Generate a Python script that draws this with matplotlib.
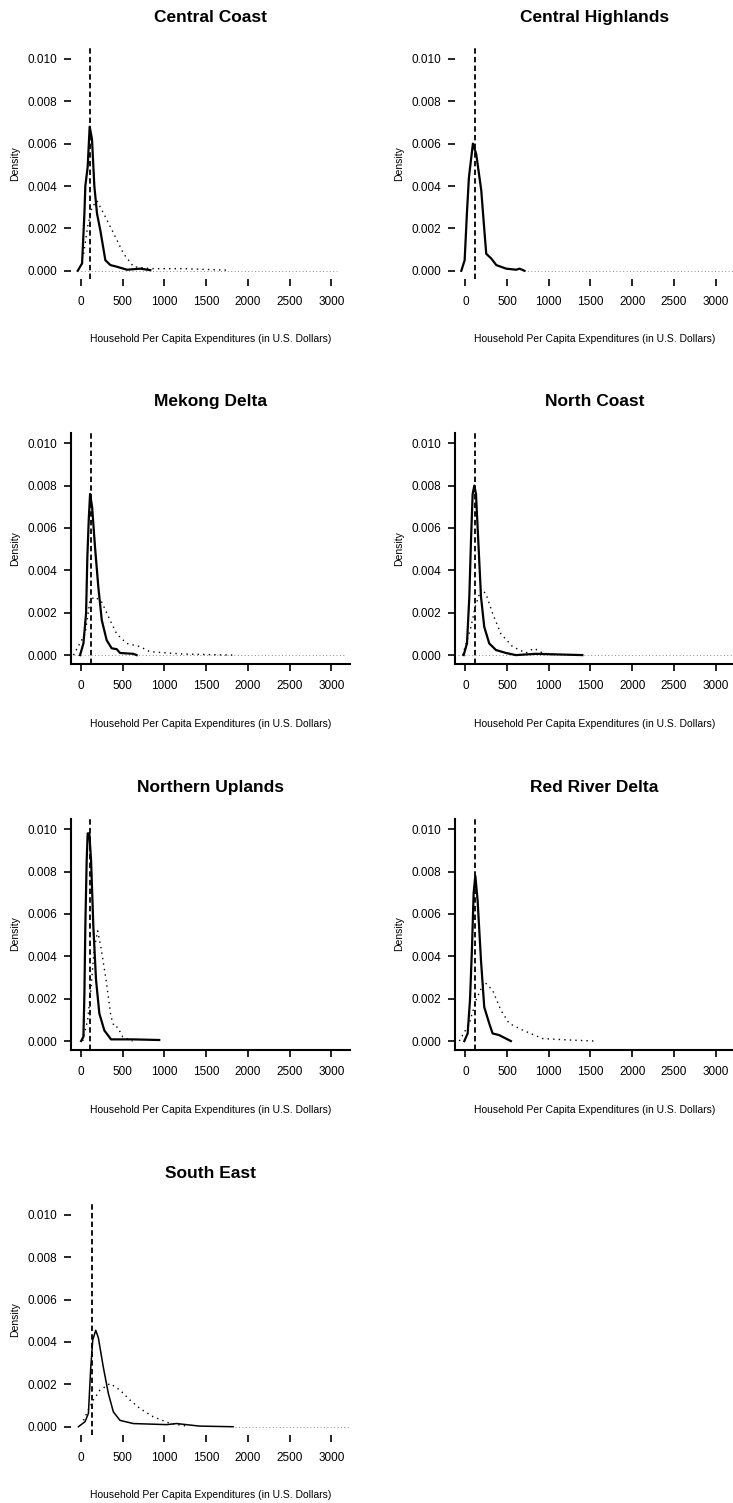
import matplotlib.pyplot as plt

plt.rcParams['font.family'] = ['Liberation Sans', 'DejaVu Sans']

# regions in panel order, poverty line (dashed) per panel
regions = ['Central Coast', 'Central Highlands', 'Mekong Delta', 'North Coast',
           'Northern Uplands', 'Red River Delta', 'South East']
poverty_line = [111, 111, 116, 111, 111, 120, 128]
xticks = [0, 500, 1000, 1500, 2000, 2500, 3000]
yticks = [0.000, 0.002, 0.004, 0.006, 0.008, 0.010]

# solid density curves
cc_solid_x = [-40, 12, 40, 51, 79, 103, 131, 159, 191, 231, 291, 351, 430, 550, 710, 830]
cc_solid_y = [0, 0.00035, 0.0027, 0.0040, 0.0049, 0.0068, 0.0062, 0.0040, 0.0027, 0.0019,
              0.0005, 0.00027, 0.00019, 0.00005, 0.0001, 0.00003]
ch_solid_x = [-48, -8, 19, 43, 91, 131, 191, 231, 251, 311, 371, 490, 610, 650, 709]
ch_solid_y = [0, 0.0005, 0.0027, 0.0044, 0.0060, 0.0055, 0.0038, 0.00177, 0.0008, 0.00058,
              0.00027, 0.0001, 0.00005, 0.0001, 0]
md_solid_x = [-12, 28, 60, 75, 92, 108, 132, 167, 207, 248, 307, 367, 427, 467, 626, 666]
md_solid_y = [0, 0.00055, 0.00197, 0.0046, 0.0064, 0.0076, 0.0070, 0.0051, 0.0032, 0.00165,
              0.0007, 0.00032, 0.00028, 0.0001, 0.00006, 0]
nc_solid_x = [-20, 20, 48, 68, 88, 108, 128, 159, 188, 227, 287, 367, 487, 606, 845, 1403]
nc_solid_y = [0, 0.00055, 0.00275, 0.0054, 0.0076, 0.0080, 0.0076, 0.0051, 0.00275, 0.00133,
              0.00055, 0.00024, 0.0001, 0, 0.00006, 0]
nu_solid_x = [0, 28, 40, 51, 67, 79, 99, 120, 147, 179, 219, 279, 359, 617, 937]
nu_solid_y = [0, 0.0002, 0.00225, 0.0054, 0.0085, 0.0098, 0.0098, 0.0085, 0.0054, 0.0029,
              0.0013, 0.0005, 0.00008, 0.00008, 0.00005]
rr_solid_x = [-12, 28, 56, 80, 100, 120, 147, 188, 227, 287, 327, 407, 446, 486, 546]
rr_solid_y = [0, 0.00036, 0.00193, 0.0044, 0.0070, 0.0078, 0.00665, 0.0038, 0.0016, 0.00083,
              0.00036, 0.00028, 0.0002, 0.00012, 0]
se_solid_x = [-32, 48, 88, 116, 140, 176, 207, 267, 327, 387, 467, 626, 1025, 1145, 1420, 1822]
se_solid_y = [0, 0.00024, 0.00063, 0.0028, 0.0041, 0.00455, 0.0042, 0.0028, 0.00157, 0.0007,
              0.0003, 0.00015, 0.0001, 0.00015, 0.00003, 0]

# dotted density curves
cc_dot_x = [31, 79, 131, 191, 271, 390, 510, 630, 830, 1228, 1746]
cc_dot_y = [0.0008, 0.0021, 0.0030, 0.0033, 0.0027, 0.00177, 0.0008, 0.00019, 0.0001, 0.0001, 0.00003]
ch_dot_x = []
ch_dot_y = []
md_dot_x = [-92, 48, 108, 167, 248, 347, 427, 547, 706, 825, 1224, 1822]
md_dot_y = [0, 0.0010, 0.0026, 0.00275, 0.0025, 0.00165, 0.0010, 0.00055, 0.0004, 0.00016, 0.00005, 0]
nc_dot_x = [-32, 68, 120, 188, 247, 327, 427, 566, 726, 825, 925, 1085]
nc_dot_y = [0, 0.00133, 0.0023, 0.0031, 0.0029, 0.00197, 0.0010, 0.0004, 0.0001, 0.00032, 0.0001, 0]
nu_dot_x = [20, 79, 120, 159, 199, 239, 299, 359, 398, 438, 498, 617]
nu_dot_y = [0, 0.0010, 0.00255, 0.0044, 0.0052, 0.0044, 0.0029, 0.00114, 0.00066, 0.00066, 0.0002, 0]
rr_dot_x = [-72, 48, 128, 227, 327, 427, 526, 686, 925, 1244, 1563]
rr_dot_y = [0, 0.00083, 0.00193, 0.0028, 0.0024, 0.00145, 0.00083, 0.00052, 0.00012, 0.00005, 0]
se_dot_x = [28, 88, 148, 227, 347, 467, 586, 706, 865, 1065, 1264]
se_dot_y = [0.0003, 0.0008, 0.00126, 0.00173, 0.00204, 0.00173, 0.00126, 0.00086, 0.00047, 0.00016, 0.00003]

solid_x = [cc_solid_x, ch_solid_x, md_solid_x, nc_solid_x, nu_solid_x, rr_solid_x, se_solid_x]
solid_y = [cc_solid_y, ch_solid_y, md_solid_y, nc_solid_y, nu_solid_y, rr_solid_y, se_solid_y]
dot_x = [cc_dot_x, ch_dot_x, md_dot_x, nc_dot_x, nu_dot_x, rr_dot_x, se_dot_x]
dot_y = [cc_dot_y, ch_dot_y, md_dot_y, nc_dot_y, nu_dot_y, rr_dot_y, se_dot_y]

# faint zero line extent per panel (None = not drawn)
zero_from = [0, 700, -90, -90, None, None, 1850]
zero_to = [3070, 3250, 3180, 3250, None, None, 3240]

boxed = [False, False, True, True, True, True, False]
solid_lw = [1.6, 1.6, 1.6, 1.6, 1.6, 1.6, 1.1]

fig = plt.figure(figsize=(7.33, 15.03), dpi=100)

lefts = [0.0965, 0.6207]
bottoms = [0.8142, 0.5585, 0.3017, 0.0451]
w, h = 0.381, 0.1537

for i, name in enumerate(regions):
    row, col = divmod(i, 2)
    ax = fig.add_axes([lefts[col], bottoms[row], w, h])

    if zero_from[i] is not None:
        ax.plot([zero_from[i], zero_to[i]], [0, 0], color='0.55', lw=0.7,
                ls=(0, (1, 2.5)))
    if dot_x[i]:
        ax.plot(dot_x[i], dot_y[i], color='black', lw=1.0, ls=(0, (1, 3)))
    ax.plot(solid_x[i], solid_y[i], color='black', lw=solid_lw[i])
    ax.axvline(poverty_line[i], color='black', lw=1.3, ls=(0, (3, 1.8)))

    ax.set_xlim(-124, 3224)
    ax.set_ylim(-0.0004, 0.0105)
    ax.set_xticks(xticks)
    ax.set_yticks(yticks)
    ax.set_yticklabels(['%.3f' % v for v in yticks])
    ax.tick_params(axis='both', labelsize=8.5, length=5, width=1.2, direction='out')
    ax.tick_params(axis='x', pad=7)
    ax.tick_params(axis='y', pad=5)

    for s in ['top', 'right']:
        ax.spines[s].set_visible(False)
    for s in ['left', 'bottom']:
        ax.spines[s].set_visible(boxed[i])
        ax.spines[s].set_linewidth(1.5)

    ax.set_title(name, fontsize=12.5, fontweight='bold', pad=19)
    ax.set_xlabel('Household Per Capita Expenditures (in U.S. Dollars)',
                  fontsize=7.5, labelpad=19)
    ax.set_ylabel('Density', fontsize=7.5, labelpad=5)

fig.savefig('out.png', dpi=100)
